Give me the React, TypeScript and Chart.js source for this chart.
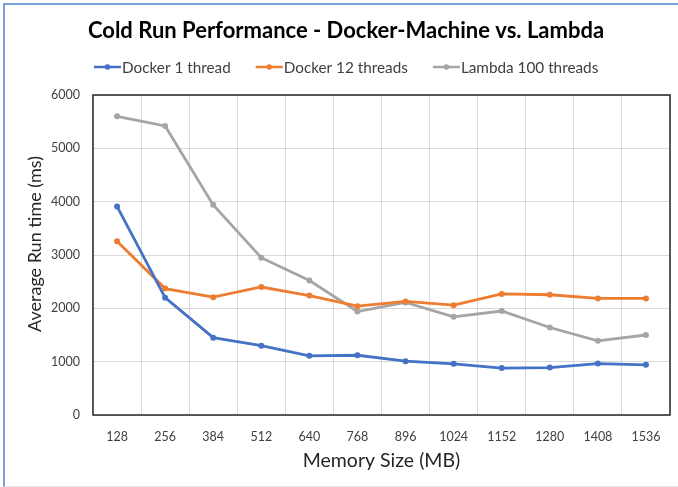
import React, { useEffect, useRef } from "react";
import { Chart, registerables } from "chart.js";

Chart.register(...registerables);

const categories = ["128", "256", "384", "512", "640", "768", "896", "1024", "1152", "1280", "1408", "1536"];
const docker1 = [3910, 2200, 1450, 1300, 1110, 1120, 1010, 960, 880, 890, 965, 940];
const docker12 = [3260, 2370, 2210, 2400, 2240, 2040, 2130, 2060, 2270, 2255, 2185, 2185];
const lambda100 = [5600, 5420, 3940, 2950, 2520, 1940, 2110, 1840, 1950, 1640, 1390, 1500];
const seriesNames = ["Docker 1 thread", "Docker 12 threads", "Lambda 100 threads"];
const seriesColors = ["#4472C4", "#ED7D31", "#A5A5A5"];
const titleText = "Cold Run Performance - Docker-Machine vs. Lambda";
const yTitle = "Average Run time (ms)";
const xTitle = "Memory Size (MB)";

const FONT = "Lato, 'Open Sans', sans-serif";

const decorPlugin = {
  id: "decor",
  afterDraw(chart: any) {
    const ctx = chart.ctx;
    const area = chart.chartArea;
    ctx.save();
    // plot border
    ctx.strokeStyle = "#262626";
    ctx.lineWidth = 1.5;
    ctx.strokeRect(area.left, area.top, area.right - area.left, area.bottom - area.top);
    // title
    ctx.fillStyle = "#000";
    ctx.font = `bold 22px ${FONT}`;
    ctx.textAlign = "center";
    ctx.textBaseline = "middle";
    ctx.fillText(titleText, 346, 31);
    // y axis title
    ctx.save();
    ctx.translate(35, 244);
    ctx.rotate(-Math.PI / 2);
    ctx.font = `18px ${FONT}`;
    ctx.fillStyle = "#262626";
    ctx.fillText(yTitle, 0, 0);
    ctx.restore();
    // legend
    ctx.font = `15.3px ${FONT}`;
    const lineLen = 27;
    const gap = 25;
    const widths = seriesNames.map((n) => ctx.measureText(n).width);
    let x = 94;
    const y = 67;
    ctx.textAlign = "left";
    seriesNames.forEach((n, i) => {
      ctx.strokeStyle = seriesColors[i];
      ctx.lineWidth = 2.5;
      ctx.beginPath();
      ctx.moveTo(x, y);
      ctx.lineTo(x + lineLen, y);
      ctx.stroke();
      ctx.fillStyle = seriesColors[i];
      ctx.beginPath();
      ctx.arc(x + lineLen / 2, y, 2.8, 0, Math.PI * 2);
      ctx.fill();
      ctx.fillStyle = "#404040";
      ctx.fillText(n, x + lineLen + 1, y + 1);
      x += lineLen + 1 + widths[i] + gap;
    });
    ctx.restore();
  },
};

export default function App() {
  const ref = useRef<HTMLCanvasElement>(null);
  useEffect(() => {
    if (!ref.current) return;
    const mk = (data: number[], i: number) => ({
      label: seriesNames[i],
      data,
      borderColor: seriesColors[i],
      backgroundColor: seriesColors[i],
      borderWidth: 2.8,
      pointRadius: 3,
      pointBorderWidth: 0,
      pointBackgroundColor: seriesColors[i],
      tension: 0,
    });
    const chart = new Chart(ref.current, {
      type: "line",
      data: {
        labels: categories,
        datasets: [mk(docker1, 0), mk(docker12, 1), mk(lambda100, 2)],
      },
      plugins: [decorPlugin],
      options: {
        animation: false,
        responsive: false,
        devicePixelRatio: 1,
        layout: { padding: { top: 95, left: 20, right: 8, bottom: 10 } },
        plugins: {
          legend: { display: false },
          title: { display: false },
          tooltip: { enabled: false },
        },
        scales: {
          x: {
            offset: true,
            grid: { offset: true, color: "#d9d9d9", drawTicks: false },
            border: { display: false },
            ticks: { padding: 14, color: "#404040", font: { family: FONT, size: 12.5 } },
            title: {
              display: true,
              text: xTitle,
              color: "#262626",
              font: { family: FONT, size: 19.5 },
              padding: { top: 2, bottom: 5 },
            },
            afterFit: (s: any) => {
              s.height = 62;
            },
          },
          y: {
            min: 0,
            max: 6000,
            ticks: {
              stepSize: 1000,
              padding: 13,
              color: "#404040",
              font: { family: FONT, size: 12.5 },
              callback: (v: any) => String(v),
            },
            grid: { color: "#d9d9d9", drawTicks: false },
            border: { display: false },
            afterFit: (s: any) => {
              s.width = 73;
            },
          },
        },
      },
    });
    return () => chart.destroy();
  }, []);
  return (
    <div style={{ position: "fixed", left: 0, top: 0, width: 678, height: 487, background: "#fff" }}>
      <div
        style={{
          position: "absolute",
          left: 3,
          top: 3,
          width: 680,
          height: 481,
          borderLeft: "2px solid #7aa3d8",
          borderTop: "2px solid #7aa3d8",
          borderBottom: "1px solid #e4e4e4",
        }}
      />
      <canvas ref={ref} width={678} height={487} style={{ position: "absolute", left: 0, top: 0 }} />
    </div>
  );
}
